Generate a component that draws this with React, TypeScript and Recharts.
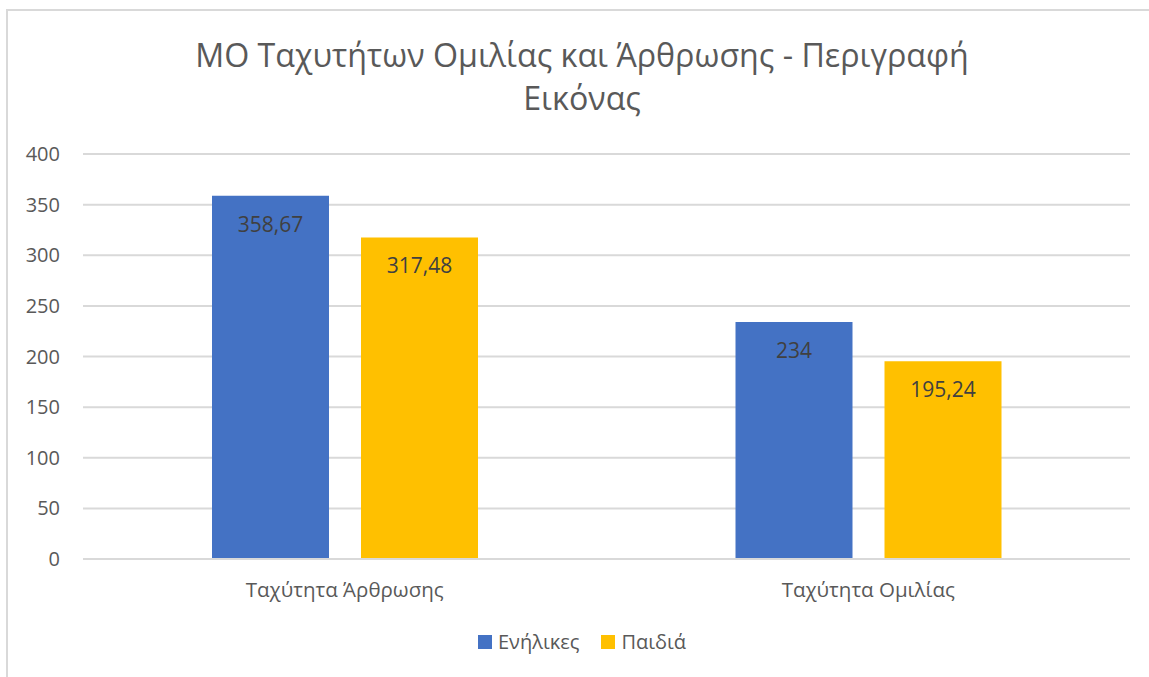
import { BarChart, Bar, XAxis, YAxis, CartesianGrid, LabelList } from 'recharts'

const TITLE = 'ΜΟ Ταχυτήτων Ομιλίας και Άρθρωσης - Περιγραφή Εικόνας'
const categories = ['Ταχύτητα Άρθρωσης', 'Ταχύτητα Ομιλίας']
const adults = [358.67, 234]
const children = [317.48, 195.24]
const seriesNames = ['Ενήλικες', 'Παιδιά']
const seriesColors = ['#4472C4', '#FFC000']
const yTicks = [0, 50, 100, 150, 200, 250, 300, 350, 400]

const data = categories.map((name, i) => ({ name, adults: adults[i], children: children[i] }))

const FONT = '"Open Sans", "Noto Sans", sans-serif'
const fmt = (v: any) => String(v).replace('.', ',')

export default function App() {
  return (
    <div style={{ position: 'absolute', left: 0, top: 0, width: 1149, height: 677, overflow: 'hidden', background: '#fff', fontFamily: FONT }}>
      <div style={{ position: 'absolute', left: 6, top: 9, width: 1200, height: 800, border: '2px solid #d9d9d9', boxSizing: 'border-box' }} />
      <div style={{ position: 'absolute', left: 582 - 425, top: 33, width: 850, textAlign: 'center', fontSize: 32.2, lineHeight: '43px', color: '#595959' }}>
        {TITLE}
      </div>
      <BarChart width={1149} height={677} data={data} margin={{ top: 154, right: 19, left: 23, bottom: 88 }} barGap={32} barSize={117}>
        <CartesianGrid vertical={false} stroke="#d9d9d9" strokeWidth={2} />
        <XAxis dataKey="name" axisLine={{ stroke: '#d9d9d9', strokeWidth: 2 }} tickLine={false} tickSize={0} tickMargin={23} height={30}
          tick={{ fontSize: 20.5, fill: '#595959', fontFamily: FONT }} />
        <YAxis domain={[0, 400]} ticks={yTicks} axisLine={false} tickLine={false} tickSize={0} tickMargin={23} width={60}
          tick={{ fontSize: 20, fill: '#595959', fontFamily: FONT }} />
        <Bar dataKey="adults" name={seriesNames[0]} fill={seriesColors[0]} isAnimationActive={false}>
          <LabelList dataKey="adults" position="insideTop" offset={21} formatter={fmt} style={{ fontSize: 21, fill: '#404040', fontFamily: FONT }} />
        </Bar>
        <Bar dataKey="children" name={seriesNames[1]} fill={seriesColors[1]} isAnimationActive={false}>
          <LabelList dataKey="children" position="insideTop" offset={21} formatter={fmt} style={{ fontSize: 21, fill: '#404040', fontFamily: FONT }} />
        </Bar>
      </BarChart>
      <div style={{ position: 'absolute', left: 0, width: 1164, top: 628, display: 'flex', justifyContent: 'center', gap: 22, fontSize: 20, color: '#595959' }}>
        {seriesNames.map((n, i) => (
          <div key={n} style={{ display: 'flex', alignItems: 'center', gap: 6 }}>
            <span style={{ width: 14, height: 14, background: seriesColors[i], display: 'inline-block' }} />
            <span>{n}</span>
          </div>
        ))}
      </div>
    </div>
  )
}
